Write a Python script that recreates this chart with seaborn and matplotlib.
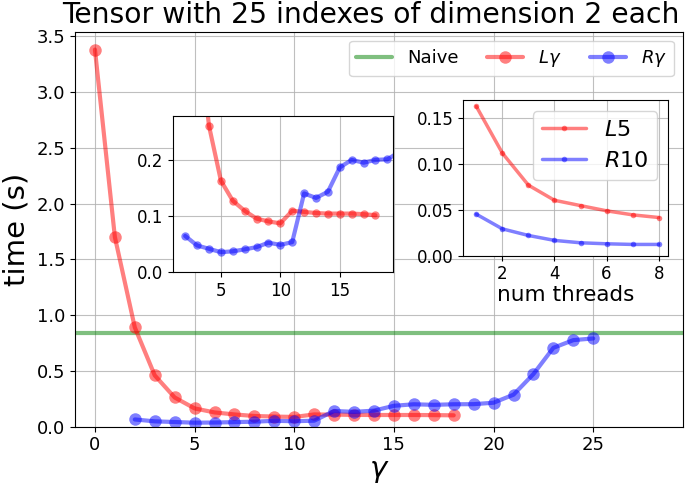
import matplotlib
matplotlib.use("Agg")
import matplotlib.pyplot as plt
import pandas as pd
import seaborn as sns

# main plot data: time vs gamma
gamma_L = list(range(0, 19))
time_L = [3.38, 1.70, 0.89, 0.46, 0.262, 0.164, 0.128, 0.110, 0.096, 0.091,
          0.0875, 0.110, 0.108, 0.106, 0.105, 0.105, 0.105, 0.104, 0.102]
gamma_R = list(range(2, 26))
time_R = [0.065, 0.048, 0.042, 0.036, 0.0375, 0.041, 0.045, 0.053, 0.049, 0.054,
          0.141, 0.133, 0.144, 0.1875, 0.201, 0.196, 0.201, 0.202, 0.215, 0.287,
          0.472, 0.707, 0.776, 0.791]
naive_time = 0.836

# threads inset data
threads = [1, 2, 3, 4, 5, 6, 7, 8]
time_L5 = [0.163, 0.112, 0.077, 0.0605, 0.0547, 0.049, 0.0446, 0.0417]
time_R10 = [0.0453, 0.0293, 0.0221, 0.0167, 0.0141, 0.013, 0.0123, 0.0123]

dfL = pd.DataFrame({'gamma': gamma_L, 'time': time_L})
dfR = pd.DataFrame({'gamma': gamma_R, 'time': time_R})
dfT = pd.DataFrame({'threads': threads, 'L5': time_L5, 'R10': time_R10})

sns.set_style("ticks")
plt.rcParams['font.family'] = ['DejaVu Sans']
plt.rcParams['mathtext.fontset'] = 'dejavusans'
plt.rcParams.update({'text.color': 'black', 'axes.labelcolor': 'black',
                     'xtick.color': 'black', 'ytick.color': 'black',
                     'axes.edgecolor': 'black'})

fig = plt.figure(figsize=(6.85, 4.88), dpi=100)
ax = fig.add_axes([0.1095, 0.1256, 0.8875, 0.8094])

ax.axhline(naive_time, color='green', lw=3, alpha=0.5, label='Naive')
sns.lineplot(data=dfL, x='gamma', y='time', ax=ax, color='red', lw=3, alpha=0.5,
             marker='o', markersize=9, markeredgewidth=0, label=r'$L\gamma$')
sns.lineplot(data=dfR, x='gamma', y='time', ax=ax, color='blue', lw=3, alpha=0.5,
             marker='o', markersize=9, markeredgewidth=0, label=r'$R\gamma$')
ax.set_xlim(-1, 29.5)
ax.set_ylim(0, 3.54)
ax.grid(True, color='#b0b0b0', lw=0.8, alpha=0.8)
ax.set_xlabel(r'$\gamma$', fontsize=21, labelpad=2)
ax.set_ylabel('time (s)', fontsize=21, labelpad=4)
ax.set_title('Tensor with 25 indexes of dimension 2 each', fontsize=20.3, pad=6, x=0.486)
ax.tick_params(labelsize=13)
ax.legend(loc='upper right', ncol=3, fontsize=13, columnspacing=1.6)

# inset 1: zoom of the small times
ax1 = fig.add_axes([173.3/685, (488-272.3)/488, (393.3-173.3)/685, (272.3-115.7)/488])
sns.lineplot(data=dfL, x='gamma', y='time', ax=ax1, color='red', lw=3, alpha=0.5,
             marker='o', markersize=6, markeredgewidth=0)
sns.lineplot(data=dfR, x='gamma', y='time', ax=ax1, color='blue', lw=3, alpha=0.5,
             marker='o', markersize=6, markeredgewidth=0)
ax1.set_xlim(1, 19.5)
ax1.set_ylim(0, 0.28)
ax1.set_yticks([0.0, 0.1, 0.2])
ax1.set_xticks([5, 10, 15])
ax1.grid(True, color='#b0b0b0', lw=0.8, alpha=0.8)
ax1.set_xlabel('')
ax1.set_ylabel('')
ax1.tick_params(labelsize=12)

# inset 2: number of threads
ax2 = fig.add_axes([463.3/685, (488-255.7)/488, (668.3-463.3)/685, (255.7-100)/488])
sns.lineplot(data=dfT, x='threads', y='L5', ax=ax2, color='red', lw=2.5, alpha=0.5,
             marker='o', markersize=4, markeredgewidth=0, label=r'$L5$')
sns.lineplot(data=dfT, x='threads', y='R10', ax=ax2, color='blue', lw=2.5, alpha=0.5,
             marker='o', markersize=4, markeredgewidth=0, label=r'$R10$')
ax2.set_xlim(0.5, 8.37)
ax2.set_ylim(0, 0.17)
ax2.set_xticks([2, 4, 6, 8])
ax2.set_yticks([0.0, 0.05, 0.10, 0.15])
ax2.grid(True, color='#b0b0b0', lw=0.8, alpha=0.8)
ax2.set_xlabel('num threads', fontsize=15.5, labelpad=1)
ax2.set_ylabel('')
ax2.tick_params(labelsize=12)
ax2.legend(loc='upper right', fontsize=16)

fig.savefig('out.png', dpi=100)
